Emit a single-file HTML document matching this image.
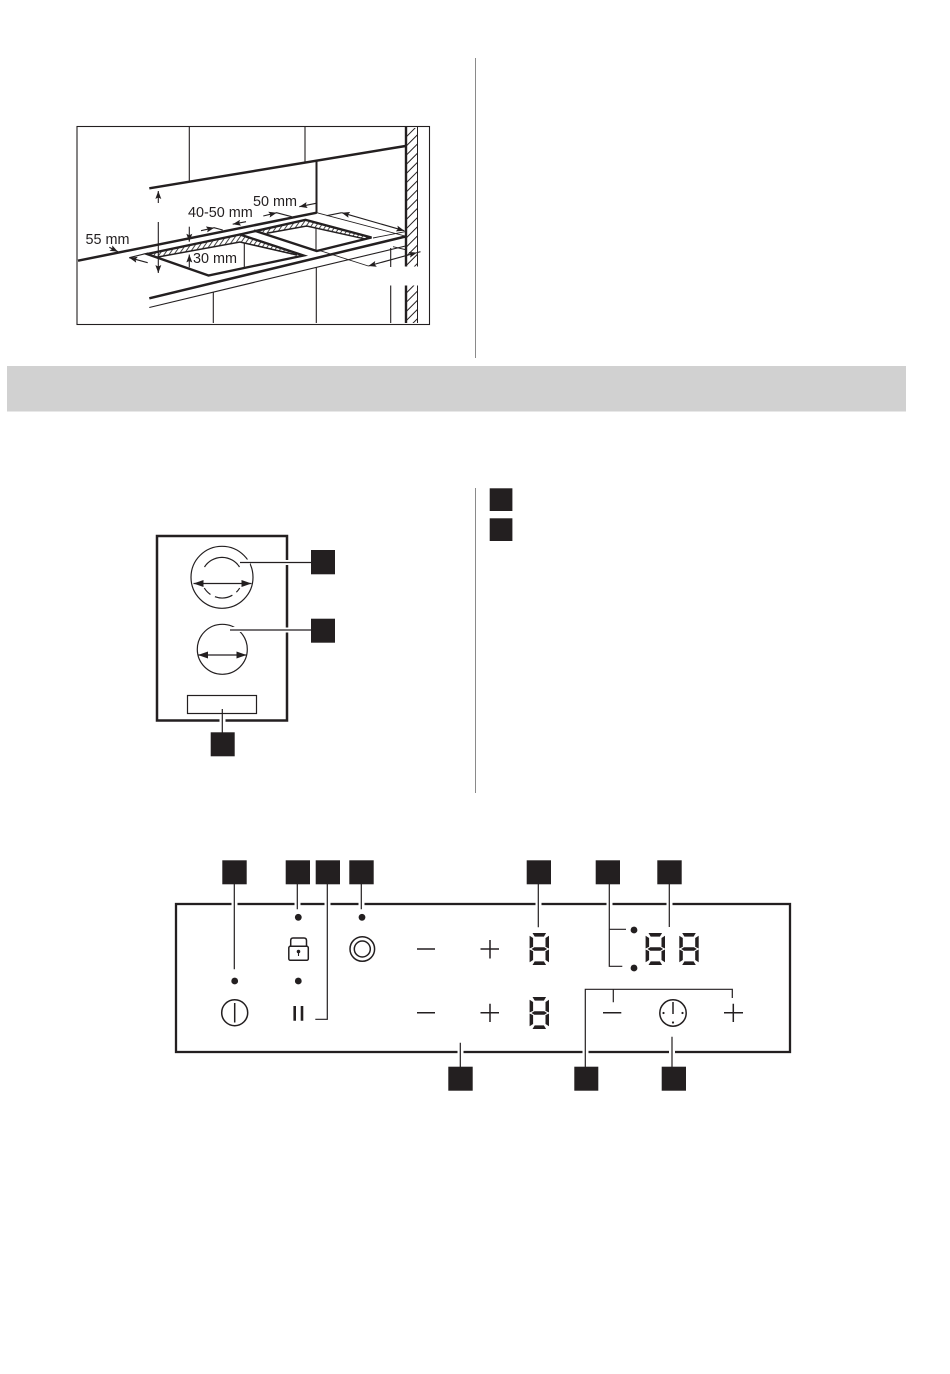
<!DOCTYPE html>
<html><head><meta charset="utf-8"><style>
html,body{margin:0;padding:0;background:#fff}
svg{display:block}
text{font-family:"Liberation Sans",sans-serif;font-size:14.4px;fill:#231f20}
</style></head><body>
<svg xmlns="http://www.w3.org/2000/svg" width="950" height="1374" viewBox="0 0 950 1374">
<defs>
<marker id="a" markerUnits="userSpaceOnUse" markerWidth="10" markerHeight="6" refX="8" refY="3" orient="auto-start-reverse"><path d="M0 0L8 3L0 6L1.500 3Z" fill="#231f20"/></marker>
<marker id="b" markerUnits="userSpaceOnUse" markerWidth="12" markerHeight="7" refX="10" refY="3.500" orient="auto-start-reverse"><path d="M0 0L10 3.500L0 7Z" fill="#231f20"/></marker>
<pattern id="h" patternUnits="userSpaceOnUse" width="6.500" height="6.500" patternTransform="rotate(45)"><rect width="6.500" height="6.500" fill="#fff"/><rect width="1" height="6.500" fill="#231f20"/></pattern>
<pattern id="k" patternUnits="userSpaceOnUse" width="4" height="4" patternTransform="rotate(35)"><rect width="4" height="4" fill="#fff"/><rect width="1" height="4" fill="#444"/></pattern>
<g id="d" fill="#231f20">
<path d="M3.200 .3H16.800L14.600 3.900H5.400Z"/>
<path d="M3.200 32.300H16.800L14.600 28.700H5.400Z"/>
<path d="M.3 3L3.800 5.300V14.200L.3 15.800Z"/>
<path d="M19.700 3L16.200 5.300V14.200L19.700 15.800Z"/>
<path d="M.3 16.800L3.800 18.400V27.300L.3 29.600Z"/>
<path d="M19.700 16.800L16.200 18.400V27.300L19.700 29.600Z"/>
<path d="M2.200 16.300L5 14.500H15L17.800 16.300L15 18.100H5Z"/>
</g>
</defs>
<rect width="950" height="1374" fill="#fff"/>

<!-- dividers and header band -->
<rect x="475" y="58" width="1" height="300" fill="#8a8a8a"/>
<rect x="475" y="488" width="1" height="305" fill="#8a8a8a"/>
<rect x="7" y="366" width="899" height="45.500" fill="#d1d1d1"/>

<!-- installation diagram -->
<rect x="77" y="126.500" width="352.500" height="198" fill="none" stroke="#231f20" stroke-width="1.100"/>
<rect x="406" y="128" width="11.500" height="138.500" fill="url(#h)"/>
<rect x="406" y="285.500" width="11.500" height="37.500" fill="url(#h)"/>
<g stroke="#231f20" fill="none">
<path d="M406 127V266.500M406 285.500V323" stroke-width="2.400"/>
<path d="M417.500 127V266.500M417.500 285.500V323" stroke-width="1"/>
<path d="M189.300 127V182M305 127V162M213.300 292V323M316.300 267V323M390.700 248V267M390.700 285.500V323M244.300 243V267M316 228V250M240 234V242M306 219V227" stroke-width="1.100"/>
<path d="M149.300 188.300L405.500 146" stroke-width="2.500"/>
<path d="M316.500 161V213" stroke-width="2"/>
<path d="M78 260.700L316.700 212.700" stroke-width="2.500"/>
<path d="M149.300 298.300L405.500 236.500" stroke-width="2.500"/>
<path d="M149.300 307.500L405.500 246" stroke-width="1.100"/>
<path d="M316.700 212.700L405 236M373 238L405 231.700M393 246.700L407 250" stroke-width=".9"/>
</g>
<path d="M148 253.500L239.500 234L303 255L297 256L239 242L158 257Z" fill="url(#k)"/>
<path d="M256 230L305.500 220L371 237.300L366 239L306.700 226L266.700 233.300Z" fill="url(#k)"/>
<g stroke="#231f20" fill="none" stroke-width="2.400" stroke-linejoin="miter">
<path d="M147 254L240 234.500L303.500 255.500L208.500 275.500Z"/>
<path d="M254 230.500L316.700 251L371.500 237.500L305.500 219.800L240 234.500"/>
<path d="M158 257L240 242L297 255" stroke-width="1.500"/>
<path d="M266.700 233.300L306.700 226L366.700 239.300" stroke-width="1.500"/>
</g>
<g stroke="#231f20" fill="none" stroke-width="1.100">
<path d="M158.300 203V191" marker-end="url(#a)"/>
<path d="M158.300 222V273" marker-end="url(#a)"/>
<path d="M109.300 247.300L118 251.800" marker-end="url(#a)"/>
<path d="M147.700 262.700L129.300 257.700" marker-end="url(#a)"/>
<path d="M129.300 257.700L148 253"/>
<path d="M189.300 226.700V241.700" marker-end="url(#a)"/>
<path d="M189.300 267.300V254.500" marker-end="url(#a)"/>
<path d="M201 230.700L214.300 227.700" marker-end="url(#a)"/>
<path d="M214 227.700L222.700 230"/>
<path d="M246 221.700L232.700 224.200" marker-end="url(#a)"/>
<path d="M263.300 216L276.700 212.700" marker-end="url(#a)"/>
<path d="M276.500 212.700L291.700 216.700"/>
<path d="M316 203.300L299.300 206.700" marker-end="url(#a)"/>
<path d="M341.700 212.700L404.300 230.700" marker-start="url(#a)" marker-end="url(#a)"/>
<path d="M341.700 212.700L326.700 215.700"/>
<path d="M318 250L368.300 266" stroke-width=".9"/>
<path d="M368.300 266L417 252.600" marker-start="url(#a)" marker-end="url(#a)"/>
<path d="M417 252.600L420.500 251.700"/>
</g>
<text x="85.500" y="244">55 mm</text>
<text x="188" y="217">40-50 mm</text>
<text x="253" y="206">50 mm</text>
<text x="193" y="263">30 mm</text>

<!-- hob top view -->
<rect x="157" y="536" width="130" height="184.500" fill="none" stroke="#231f20" stroke-width="2.500"/>
<g fill="none" stroke="#231f20" stroke-width="1.200">
<circle cx="222" cy="577.300" r="31"/>
<path d="M204.500 567A20.700 20.700 0 0 1 239.500 567"/>
<path d="M204.300 588A20.700 20.700 0 0 0 239.700 588" stroke-dasharray="9 5 18 5 9"/>
<circle cx="222.300" cy="649.300" r="25"/>
<rect x="187.500" y="695.500" width="69" height="18"/>
<path d="M193.500 583.500H251.500" marker-start="url(#b)" marker-end="url(#b)"/>
<path d="M198 655H246.500" marker-start="url(#b)" marker-end="url(#b)"/>
</g>
<rect x="238" y="559.500" width="12" height="5" fill="#fff"/>
<rect x="229" y="627" width="12" height="5" fill="#fff"/>
<rect x="284" y="560" width="6" height="5" fill="#fff"/>
<rect x="284" y="627.500" width="6" height="5" fill="#fff"/>
<rect x="219.500" y="716" width="6" height="7" fill="#fff"/>
<path d="M240 562.500H311M230 630H311M222.300 709V733" stroke="#231f20" stroke-width="1.200" fill="none"/>
<g fill="#231f20">
<rect x="311" y="550" width="24" height="24.300"/>
<rect x="311" y="618.700" width="24" height="24"/>
<rect x="210.700" y="732.300" width="24" height="24"/>
<rect x="489.700" y="488.300" width="22.700" height="22.700"/>
<rect x="489.700" y="518.300" width="22.700" height="22.700"/>
</g>

<!-- control panel -->
<rect x="176" y="904" width="614" height="148" fill="none" stroke="#231f20" stroke-width="2.300"/>
<g fill="#fff">
<rect x="231.500" y="901" width="6" height="6"/><rect x="294.500" y="901" width="6" height="6"/>
<rect x="324.500" y="901" width="6" height="6"/><rect x="358.500" y="901" width="6" height="6"/>
<rect x="535.500" y="901" width="6" height="6"/><rect x="606.500" y="901" width="6" height="6"/>
<rect x="666.500" y="901" width="6" height="6"/>
<rect x="457.500" y="1049" width="6" height="6"/><rect x="582.500" y="1049" width="6" height="6"/>
<rect x="669" y="1049" width="6" height="6"/>
</g>
<g fill="#231f20">
<rect x="222.300" y="860.300" width="24.400" height="24"/>
<rect x="285.700" y="860.300" width="24.300" height="24"/>
<rect x="315.700" y="860.300" width="24.300" height="24"/>
<rect x="349.300" y="860.300" width="24.400" height="24"/>
<rect x="526.700" y="860.300" width="24.300" height="24"/>
<rect x="595.700" y="860.300" width="24.300" height="24"/>
<rect x="657.300" y="860.300" width="24.400" height="24"/>
<rect x="448.300" y="1066.700" width="24.400" height="24"/>
<rect x="574.300" y="1066.700" width="24" height="24"/>
<rect x="661.700" y="1066.700" width="24.300" height="24"/>
<circle cx="234.700" cy="981" r="3.400"/>
<circle cx="298.300" cy="917.300" r="3.400"/>
<circle cx="298.300" cy="981" r="3.400"/>
<circle cx="362" cy="917.300" r="3.400"/>
<circle cx="634" cy="930" r="3.400"/>
<circle cx="634" cy="968" r="3.400"/>
</g>
<g fill="none" stroke="#231f20" stroke-width="1.300">
<path d="M234.300 884V969.300M297.300 884V909.300M327.300 884V1019.300H315.300M361.300 884V909.300M538.300 884V927.300M609.300 884V966.300H622.300M609.300 929.300H626M669.300 884V927M460.300 1042.700V1067M585.300 1067V989.300H732.300V998M613.300 989.300V1002.300M672 1036.700V1067" stroke-width="1.200"/>
<circle cx="234.700" cy="1012.700" r="13" stroke-width="1.500"/>
<path d="M234.700 1003V1022.500" stroke-width="1.500"/>
<rect x="288.800" y="946.300" width="19.500" height="14" rx="1.500" stroke-width="1.500"/>
<path d="M290.700 946V940.500Q290.700 938 293 938H304Q306.500 938 306.500 940.500V946" stroke-width="1.500"/>
<circle cx="362.300" cy="949" r="12.300" stroke-width="1.500"/>
<circle cx="362.300" cy="949" r="8" stroke-width="1.500"/>
<path d="M417 949H435M417 1012.700H435M480.500 949H499M490 940V958.500M480.500 1012.700H499M490 1003.700V1022M603 1012.700H621.300M724 1012.700H743M733.300 1003.700V1022" stroke-width="1.500"/>
<circle cx="673" cy="1013" r="13.200" stroke-width="1.500"/>
<path d="M673 1002V1014" stroke-width="1.500"/>
</g>
<path d="M294.700 1006V1020.700M302 1006V1020.700" stroke="#231f20" stroke-width="2.600"/>
<path d="M298.500 951V956" stroke="#231f20" stroke-width="1.100"/>
<g fill="#231f20">
<circle cx="298.500" cy="951.500" r="1.800"/>
<circle cx="663.500" cy="1013" r="1.100"/><circle cx="682.500" cy="1013" r="1.100"/><circle cx="673" cy="1022.500" r="1.100"/>
</g>
<use href="#d" x="529.300" y="932.700"/>
<use href="#d" x="529.300" y="996.700"/>
<use href="#d" x="645.300" y="932.700"/>
<use href="#d" x="679" y="932.700"/>
</svg>
</body></html>
